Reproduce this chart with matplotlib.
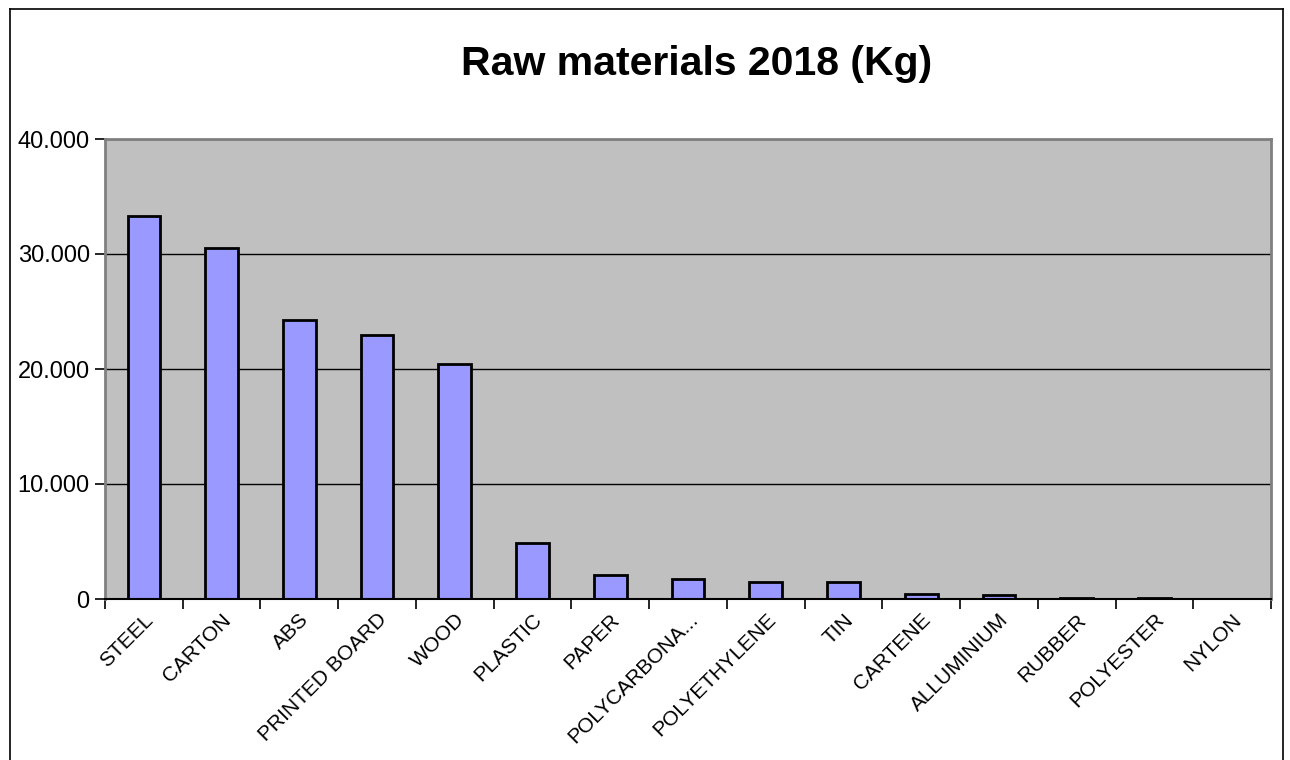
import matplotlib.pyplot as plt
import numpy as np
from matplotlib.ticker import FuncFormatter, FixedLocator
from matplotlib.lines import Line2D

plt.rcParams["font.family"] = ["Liberation Sans", "DejaVu Sans"]

materiali = ["STEEL", "CARTON", "ABS", "PRINTED BOARD", "WOOD", "PLASTIC",
             "PAPER", "POLYCARBONA...", "POLYETHYLENE", "TIN", "CARTENE",
             "ALLUMINIUM", "RUBBER", "POLYESTER", "NYLON"]
kg = [33300, 30500, 24300, 23000, 20400, 4850, 2100, 1730, 1500, 1440,
      450, 350, 80, 60, 0]
y_ticks = [0, 10000, 20000, 30000, 40000]

fig = plt.figure(figsize=(12.9, 7.6), dpi=100)
ax = fig.add_axes([105 / 1290, 1 - 599 / 760, 1166 / 1290, 460 / 760])
ax.set_facecolor("#C0C0C0")

x = np.arange(len(materiali))
ax.bar(x, kg, width=0.42, color="#9999FF", edgecolor="black", linewidth=2,
       zorder=3)

ax.set_xlim(-0.5, len(materiali) - 0.5)
ax.set_ylim(0, 40000)
ax.yaxis.set_major_locator(FixedLocator(y_ticks))
ax.yaxis.set_major_formatter(
    FuncFormatter(lambda v, p: f"{int(v):,}".replace(",", ".")))
ax.grid(axis="y", color="black", linewidth=1, zorder=1)
ax.set_axisbelow(True)

ax.set_xticks(x)
ax.set_xticklabels(materiali, rotation=45, ha="right",
                   rotation_mode="anchor", fontsize=15)
ax.tick_params(axis="x", which="major", length=0, pad=8)
ax.set_xticks(np.arange(-0.5, len(materiali)), minor=True)
ax.tick_params(axis="x", which="minor", length=7, width=1.2, color="black")
ax.tick_params(axis="y", length=7, width=1.2, labelsize=17, pad=4)

for s in ("top", "right", "left"):
    ax.spines[s].set_color("#808080")
    ax.spines[s].set_linewidth(2)
ax.spines["bottom"].set_color("black")
ax.spines["bottom"].set_linewidth(1.5)
ax.spines["bottom"].set_zorder(4)

fig.text(697 / 1290, 1 - 64 / 760, "Raw materials 2018 (Kg)", ha="center",
         va="center", fontsize=29.5, fontweight="bold")

# cornice esterna
bordo = dict(color="black", linewidth=1.2, transform=fig.transFigure)
fig.add_artist(Line2D([10 / 1290, 10 / 1290], [0, 1 - 9 / 760], **bordo))
fig.add_artist(Line2D([10 / 1290, 1283 / 1290], [1 - 9 / 760, 1 - 9 / 760], **bordo))
fig.add_artist(Line2D([1283 / 1290, 1283 / 1290], [0, 1 - 9 / 760], **bordo))

fig.savefig("out.png", dpi=100)
